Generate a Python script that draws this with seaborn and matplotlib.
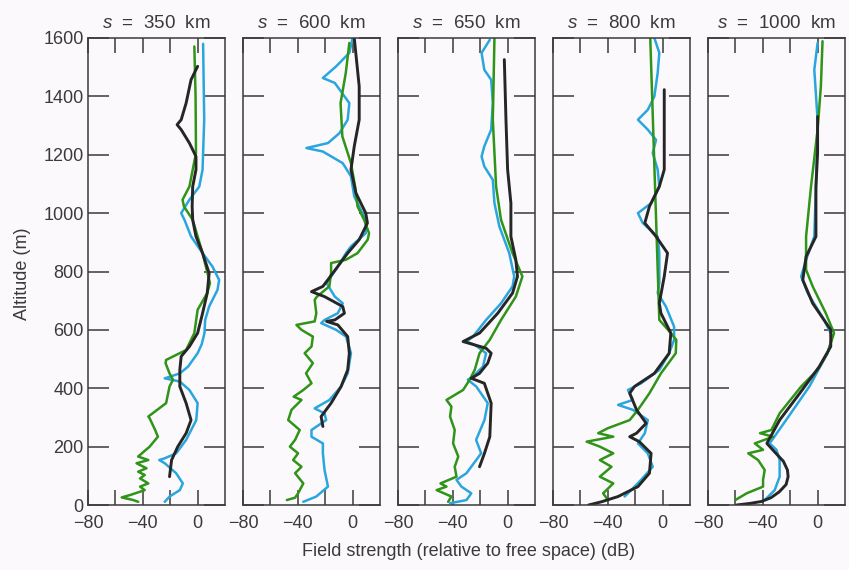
import matplotlib

matplotlib.use("Agg")
import matplotlib.pyplot as plt
import pandas as pd
import seaborn as sns

# distance of each profile (km)
distances = [350, 600, 650, 800, 1000]

# (altitude m, field strength dB), top to bottom
green_350 = [(1571, -2.4), (1400, -1.5), (1206, -1.2), (1091, -6), (1046, -11), (1023, -10), (977, -3.6),
             (863, 3.6), (760, 9), (726, 7), (669, 0), (589, -2.4), (531, -8.4), (497, -23), (486, -23.4),
             (451, -20.5), (429, -18), (406, -20.5), (349, -23), (303, -36), (297, -35), (257, -31), (234, -29),
             (200, -35), (166, -43.4), (154, -36), (143, -44.6), (126, -37.3), (114, -43.4), (103, -38.6),
             (91, -42), (74, -36), (63, -42), (51, -38.6), (34, -49.4), (26, -55.4), (17, -47), (11, -43.4)]
blue_350 = [(1580, 4), (1320, 4.8), (1149, 3.6), (1091, 1.2), (1046, -6), (1000, -12), (977, -9.6), (920, -4.8),
            (863, 3.6), (817, 10.8), (771, 15.7), (737, 14.5), (680, 8.4), (634, 5.5), (589, 5), (551, 3),
            (520, 0), (474, -7), (451, -13), (440, -20), (434, -24), (428, -18), (423, -13), (394, -6), (349, 0),
            (291, -1), (223, -8.4), (177, -15.7), (160, -24), (154, -28), (143, -24), (109, -15.7), (74, -10.8),
            (51, -13), (29, -20.5), (11, -24)]
black_350 = [(1503, 0), (1457, -4.8), (1377, -8.4), (1320, -12), (1303, -15), (1286, -12), (1240, -6),
             (1194, -1.2), (1149, -1.2), (1091, -3.6), (1023, -4), (977, -3.6), (920, -1.2), (863, 3.6),
             (794, 8.4), (726, 7), (657, 3.6), (589, 0), (543, -6), (509, -12), (463, -13), (406, -13),
             (349, -8.4), (291, -4.8), (246, -8.4), (200, -14.5), (154, -19), (97, -20.5)]

green_600 = [(1583, -2.4), (1480, -5), (1377, -8.8), (1263, -7.5), (1171, -1.2), (1091, 1.8), (1023, 3.6),
             (977, 8.4), (931, 12), (909, 11), (863, 3.6), (840, -5), (829, -15.7), (794, -15.7), (749, -17),
             (714, -26), (703, -27.7), (657, -26.5), (629, -27.7), (617, -41), (600, -37.3), (577, -29),
             (543, -30), (520, -35), (486, -29), (451, -34), (417, -30), (394, -36), (371, -43), (360, -37.3),
             (326, -44.6), (291, -47), (257, -38.6), (223, -42), (200, -45.8), (177, -39.8), (154, -43.4),
             (131, -37.3), (109, -42), (74, -36), (40, -39.8), (25, -42), (17, -48)]
blue_600 = [(1600, 0), (1549, -2.4), (1503, -12), (1463, -21.7), (1446, -13), (1377, -2.4), (1320, -3.6),
            (1274, -9.6), (1240, -18), (1223, -33.7), (1211, -21.7), (1171, -7.2), (1126, -1.2), (1057, 1.2),
            (977, 9.6), (931, 9.6), (886, -1.2), (863, -4.8), (817, -10.8), (760, -19), (714, -13), (691, -7.2),
            (657, -10.8), (634, -20.5), (623, -22.9), (600, -12), (577, -4.8), (520, -1.2), (451, -3.6),
            (406, -8.4), (360, -16.9), (331, -27.7), (314, -20.5), (291, -19.3), (257, -30), (234, -30),
            (211, -21.7), (177, -21.7), (120, -20.5), (63, -18), (29, -26.5), (11, -36)]
black_600 = [(1600, 1.2), (1434, 4.8), (1320, 4.8), (1229, 1.2), (1149, -1.2), (1069, 2.4), (1000, 9.6),
             (966, 10.8), (909, 4.8), (863, -3.6), (794, -14.5), (749, -21.7), (731, -30), (714, -20.5),
             (680, -7.2), (657, -6), (634, -13), (629, -19), (617, -10.8), (577, -3.6), (520, -2.4),
             (463, -3.6), (406, -8.4), (349, -15.7), (303, -23), (269, -21.7)]

green_650 = [(1600, -9.6), (1320, -10.8), (1091, -8.4), (977, -4.8), (863, 3.6), (783, 10.8), (714, 6),
             (634, -4.8), (566, -13), (520, -20.5), (463, -24), (429, -27.7), (394, -32.5), (360, -44.6),
             (337, -41), (303, -42), (257, -38.6), (211, -39.8), (166, -36), (131, -38.6), (97, -37.3),
             (74, -49), (63, -44.6), (51, -51.8), (29, -41), (11, -43.4)]
blue_650 = [(1594, -13), (1549, -19), (1491, -17), (1457, -12), (1377, -10.8), (1286, -12), (1229, -17),
            (1194, -19), (1160, -17), (1114, -10.8), (1034, -9.6), (954, -6), (863, 1.2), (783, 4.8),
            (749, 3.6), (691, -4.8), (634, -15.7), (577, -25.3), (560, -30), (549, -24), (520, -15.7),
            (474, -18), (440, -25.3), (429, -29), (406, -22.9), (349, -14.5), (291, -16.9), (223, -23),
            (177, -19.3), (109, -30), (86, -37.3), (63, -33.7), (40, -26.5), (17, -30), (6, -42)]
black_650 = [(1526, -2.4), (1320, -1.2), (1149, 0), (1034, 2.4), (920, 2.4), (840, 6), (783, 7.2), (726, 3.6),
             (657, -7.2), (589, -20.5), (560, -32.5), (537, -15.7), (520, -12), (486, -14.5), (451, -20.5),
             (434, -26.5), (417, -17), (349, -12), (234, -13), (177, -16.9), (131, -20.5)]

green_800 = [(1600, -9), (634, -2.4), (600, 4), (566, 10), (520, 9.6), (451, -1.2), (383, -9.6), (326, -18),
             (291, -24), (263, -40), (246, -47), (234, -36), (217, -55.4), (200, -45.8), (177, -36),
             (154, -45.8), (131, -37.3), (97, -45.8), (74, -36), (40, -43.4), (17, -39.8)]
blue_800 = [(1600, -6), (1549, -2.4), (1480, -3.6), (1400, -6), (1354, -10.8), (1320, -18), (1286, -10.8),
            (1251, -4.8), (1206, -7.2), (1149, -3.6), (1091, -2.4), (1034, -8.4), (1000, -18), (966, -14.5),
            (920, -3.6), (863, -2.4), (760, -2.4), (726, -3.6), (680, 2.4), (611, 8.4), (566, 8.4), (520, 4.8),
            (463, -2.4), (417, -15.7), (394, -25.3), (360, -21.7), (343, -32.5), (326, -21.7), (291, -10.8),
            (246, -13), (211, -18), (177, -10.8), (131, -7.2), (86, -15.7), (51, -23), (29, -27.7)]
black_800 = [(1423, 1.2), (1320, 1.2), (1149, 1.2), (1091, -2.4), (1023, -9.6), (966, -13), (920, -4.8),
             (863, 3.6), (783, 1.2), (691, -2.4), (657, -1.2), (589, 6), (520, 4.8), (451, -6), (406, -20.5),
             (383, -24), (326, -19), (280, -12), (246, -19), (234, -24), (217, -17), (177, -8.4), (109, -9.6),
             (63, -18), (29, -32.5), (11, -44.6), (0, -54)]

green_1000 = [(1589, 3.6), (1434, 2.4), (1286, 0), (1091, -4.8), (920, -8.4), (806, -8.4), (749, -3.6),
              (657, 6), (589, 12), (520, 7.2), (463, 0), (406, -12), (314, -27.7), (257, -33.7), (246, -42),
              (234, -32.5), (211, -45.8), (189, -39.8), (177, -50.6), (154, -43.4), (120, -38.6), (86, -39.8),
              (63, -39.8), (40, -51.8), (17, -60)]
blue_1000 = [(1583, 0), (1491, -2.4), (1320, 0), (1091, -1.2), (920, -2.4), (840, -8.4), (783, -12),
             (726, -7.2), (634, 4.8), (577, 10.8), (520, 7.2), (406, -6), (291, -23), (211, -35), (189, -30),
             (154, -27.7), (97, -27.7), (51, -31.3), (17, -38.6)]
black_1000 = [(1331, 0), (1206, 0), (1091, -1.2), (920, -1.2), (851, -8.4), (771, -10.8), (691, -3.6),
              (600, 9.6), (543, 9.6), (474, 1.2), (383, -13), (291, -27.7), (211, -37), (180, -31), (150, -25),
              (120, -22), (97, -21.5), (70, -23), (45, -28), (25, -34), (12, -41), (5, -50), (0, -59)]

series = {
    350: (blue_350, green_350, black_350),
    600: (blue_600, green_600, black_600),
    650: (blue_650, green_650, black_650),
    800: (blue_800, green_800, black_800),
    1000: (blue_1000, green_1000, black_1000),
}

BLUE = "#2aa6de"
GREEN = "#2f9417"
BLACK = "#262626"
INK = "#3a3a3a"
BG = "#fcf9fc"

sns.set_theme(style="white")
plt.rcParams["font.family"] = ["Liberation Sans Narrow", "Liberation Sans", "DejaVu Sans"]
plt.rcParams["mathtext.fontset"] = "custom"
plt.rcParams["mathtext.it"] = "Liberation Sans:italic"
plt.rcParams["mathtext.rm"] = "Liberation Sans"

fig, axes = plt.subplots(1, 5, figsize=(8.49, 5.70), dpi=100, sharey=True, facecolor=BG)
fig.subplots_adjust(left=88 / 849, right=845 / 849, bottom=65 / 570, top=532 / 570, wspace=0.131)

for i, (ax, dist) in enumerate(zip(axes, distances)):
    ax.set_facecolor(BG)
    for pts, color, lw in zip(series[dist], (BLUE, GREEN, BLACK), (1.8, 1.8, 2.1)):
        frame = pd.DataFrame(pts, columns=["alt", "db"])
        sns.lineplot(data=frame, x="db", y="alt", sort=False, estimator=None,
                     color=color, lw=lw, ax=ax)
    ax.set_xlim(-80, 20)
    ax.set_ylim(0, 1600)
    ax.set_xticks([-80, -60, -40, -20, 0])
    ax.set_xticklabels(["\u221280", "", "\u221240", "", "0"])
    ax.set_yticks(range(0, 1601, 200))
    ax.tick_params(axis="x", direction="in", top=True, bottom=True, length=11, width=1.1,
                   color=INK, labelcolor=INK, labelsize=13, pad=7)
    ax.tick_params(axis="y", direction="in", left=True, right=True, length=15, width=1.1,
                   color=INK, labelcolor=INK, labelsize=13, pad=3, labelleft=(i == 0))
    ax.set_xlabel("")
    ax.set_ylabel("")
    for spine in ax.spines.values():
        spine.set_color(INK)
        spine.set_linewidth(1.1)
    ax.set_title(f"$s$  =  {dist}  km", fontsize=13.5, color=INK, pad=7)

fig.text(0.552, 0.032, "Field strength (relative to free space) (dB)", ha="center", va="center",
         fontsize=13, color=INK)
fig.text(0.027, 0.52, "Altitude (m)", ha="center", va="center", rotation=90, fontsize=13, color=INK)

fig.savefig("out.png", dpi=100, facecolor=BG)
plt.close(fig)
